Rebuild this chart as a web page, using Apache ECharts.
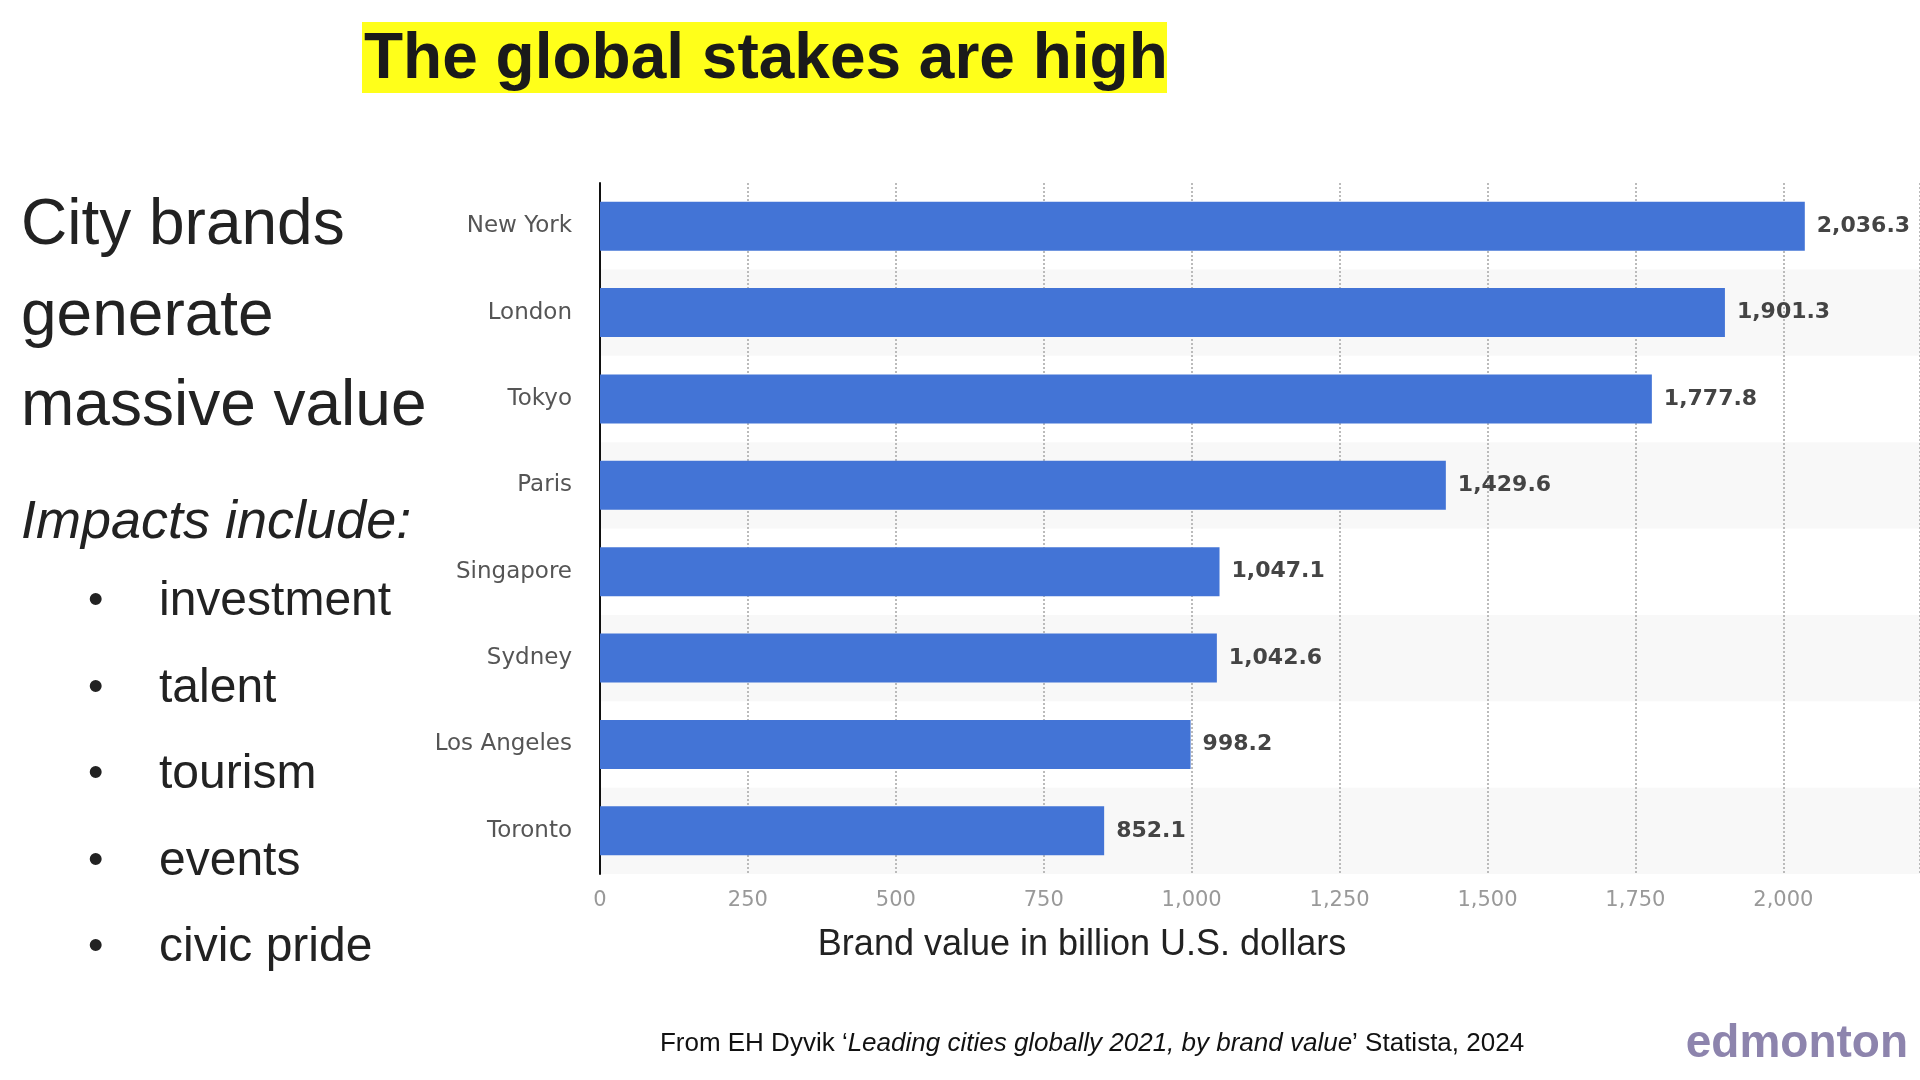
<!DOCTYPE html>
<html><head><meta charset="utf-8">
<script src="https://cdn.jsdelivr.net/npm/echarts@6/dist/echarts.min.js"></script>
<style>html,body{margin:0;background:#fff}#c{width:1920px;height:1080px}</style></head>
<body><div id="c"></div>
<script>
const cities = ['New York','London','Tokyo','Paris','Singapore','Sydney','Los Angeles','Toronto'];
const values = [2036.3,1901.3,1777.8,1429.6,1047.1,1042.6,998.2,852.1];
const bullets = ['investment','talent','tourism','events','civic pride'];
const chart = echarts.init(document.getElementById('c'));
const F = 'Liberation Sans, Arial, sans-serif';
const gfx = [
  {type:'rect',shape:{x:362,y:22,width:805,height:71},style:{fill:'#ffff1a'}},
  {type:'text',style:{text:'The global stakes are high',x:364,y:60,verticalAlign:'middle',font:'bold 64px '+F,fill:'#1a1a1a'}},
  {type:'text',style:{text:'City brands',x:21,y:226,verticalAlign:'middle',font:'64px '+F,fill:'#222'}},
  {type:'text',style:{text:'generate',x:21,y:317,verticalAlign:'middle',font:'64px '+F,fill:'#222'}},
  {type:'text',style:{text:'massive value',x:21,y:407,verticalAlign:'middle',font:'64px '+F,fill:'#222'}},
  {type:'text',style:{text:'Impacts include:',x:21,y:523,verticalAlign:'middle',font:'italic 54px '+F,fill:'#222'}},
  {type:'text',style:{text:'{n|From EH Dyvik \u2018}{i|Leading cities globally 2021, by brand value}{n|\u2019 Statista, 2024}',x:1092,y:1044,align:'center',verticalAlign:'middle',rich:{n:{font:'26px '+F,fill:'#111'},i:{font:'italic 26px '+F,fill:'#111'}}}},
  {type:'text',style:{text:'Brand value in billion U.S. dollars',x:1082,y:945,align:'center',verticalAlign:'middle',font:'36px '+F,fill:'#222'}},
  {type:'text',style:{text:'edmonton',x:1908,y:1044,align:'right',verticalAlign:'middle',font:'bold 46px '+F,fill:'#8d84ad'}}
];
bullets.forEach((b,i)=>{
  const y=602+i*86.5;
  gfx.push({type:'text',style:{text:'\u2022',x:88,y:y,verticalAlign:'middle',font:'44px '+F,fill:'#222'}});
  gfx.push({type:'text',style:{text:b,x:159,y:y,verticalAlign:'middle',font:'48px '+F,fill:'#222'}});
});
chart.setOption({
  animation:false,
  grid:{left:600,right:0,top:183,bottom:206,containLabel:false},
  xAxis:{type:'value',min:0,max:2231,interval:250,
    axisLabel:{color:'#999',fontSize:21,fontFamily:'DejaVu Sans, sans-serif',margin:16,showMaxLabel:false,
      formatter:v=>v.toLocaleString('en-US')},
    splitLine:{show:true,lineStyle:{type:'dotted',color:'#bbb',width:2}},
    axisLine:{show:false},axisTick:{show:false}},
  yAxis:{type:'category',data:cities,inverse:true,
    axisLine:{show:true,lineStyle:{color:'#111',width:2}},axisTick:{show:false},
    axisLabel:{color:'#555',fontSize:23,fontFamily:'DejaVu Sans, sans-serif',margin:28,padding:[6,0,0,0]},
    splitArea:{show:true,areaStyle:{color:['rgba(0,0,0,0)','#f8f8f8']}}},
  series:[{type:'bar',data:values,barWidth:49,itemStyle:{color:'#4374d6'},
    label:{show:true,position:'right',distance:12,fontSize:22,fontWeight:'bold',color:'#444',fontFamily:'DejaVu Sans, sans-serif',padding:[6,0,0,0],
      formatter:p=>p.value.toLocaleString('en-US',{minimumFractionDigits:1})}}],
  graphic:gfx
});
</script></body></html>
